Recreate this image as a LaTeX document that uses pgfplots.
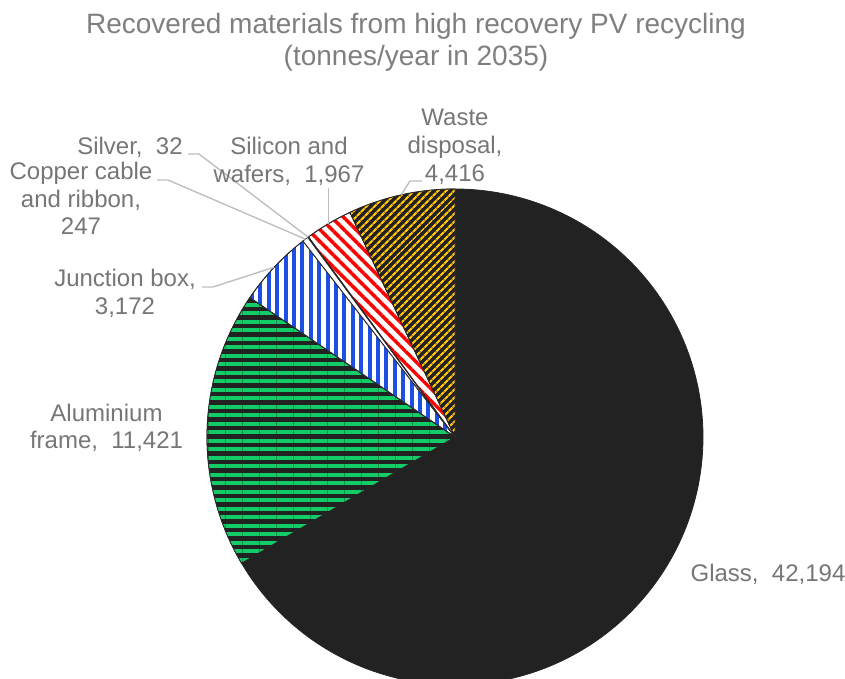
\documentclass[border=0pt]{standalone}
\usepackage{pgfplots}
\pgfplotsset{compat=1.18}
\usepackage{pgfplotstable}
\usepackage{fontspec}
\setmainfont{Liberation Sans}
\usetikzlibrary{patterns.meta}

\definecolor{glass}{HTML}{222222}
\definecolor{alugreen}{HTML}{12CC68}
\definecolor{juncblue}{HTML}{1C4FE2}
\definecolor{sired}{HTML}{FF0000}
\definecolor{wasteorange}{HTML}{FFC000}
\definecolor{edge}{HTML}{262626}
\definecolor{labelgray}{HTML}{767676}
\definecolor{titlegray}{HTML}{7F7F7F}
\definecolor{leadergray}{HTML}{BFBFBF}

% recovered materials, tonnes/year in 2035 (pie order, clockwise from 12 o'clock)
\pgfplotstableread{
slice value
Glass 42194
Aluminium 11421
Junction 3172
Copper 247
Silver 32
Silicon 1967
Waste 4416
}\piedata

\newcommand\getval[2]{\pgfplotstablegetelem{#1}{value}\of\piedata\global\let#2\pgfplotsretval}
\getval{0}\vA \getval{1}\vB \getval{2}\vC \getval{3}\vD
\getval{4}\vE \getval{5}\vF \getval{6}\vG

% pie centre and radius in axis units
\def\cx{455}\def\cy{242}\def\R{248}

% slice end angles (degrees), clockwise from 90
\edef\total{\fpeval{\vA+\vB+\vC+\vD+\vE+\vF+\vG}}
\edef\eA{\fpeval{90-360*\vA/\total}}
\edef\eB{\fpeval{\eA-360*\vB/\total}}
\edef\eC{\fpeval{\eB-360*\vC/\total}}
\edef\eD{\fpeval{\eC-360*\vD/\total}}
\edef\eE{\fpeval{\eD-360*\vE/\total}}
\edef\eF{\fpeval{\eE-360*\vF/\total}}
\edef\eG{\fpeval{\eF-360*\vG/\total}}

% point on the rim at the middle of a slice
\newcommand\rimpt[4]{%
  \edef#3{\fpeval{\cx+\R*cosd((#1+#2)/2)}}%
  \edef#4{\fpeval{\cy+\R*sind((#1+#2)/2)}}}
\rimpt{\eB}{\eC}\xC\yC
\rimpt{\eC}{\eD}\xD\yD
\rimpt{\eD}{\eE}\xE\yE
\rimpt{\eE}{\eF}\xF\yF
\rimpt{\eF}{\eG}\xG\yG

\tikzset{
  lbl/.style={text=labelgray, font=\fontsize{24bp}{28bp}\selectfont, anchor=base, inner sep=0pt},
  ttl/.style={text=titlegray, font=\fontsize{28bp}{32bp}\selectfont, anchor=base, inner sep=0pt},
  leader/.style={draw=leadergray, line width=1.4bp},
}
\pgfplotsset{slice/.style={draw=edge, line width=0.8bp, no markers}}

\begin{document}
\begin{tikzpicture}
\begin{axis}[
  width=845bp, height=679bp, scale only axis,
  xmin=0, xmax=845, ymin=0, ymax=679,
  hide axis, clip mode=individual,
]
\coordinate (SW) at (rel axis cs:0,0);
\coordinate (NE) at (rel axis cs:1,1);

% slices
\addplot[slice, fill=glass, domain=\eA:90, samples=240]
  ({\cx+\R*cos(x)},{\cy+\R*sin(x)}) -- (axis cs:\cx,\cy) -- cycle;
\addplot[slice, preaction={fill=glass},
  pattern={Lines[angle=0, distance=8.5bp, line width=4bp]}, pattern color=alugreen,
  domain=\eB:\eA, samples=80]
  ({\cx+\R*cos(x)},{\cy+\R*sin(x)}) -- (axis cs:\cx,\cy) -- cycle;
\addplot[slice, preaction={fill=white},
  pattern={Lines[angle=90, distance=8.4bp, line width=4bp]}, pattern color=juncblue,
  domain=\eC:\eB, samples=30]
  ({\cx+\R*cos(x)},{\cy+\R*sin(x)}) -- (axis cs:\cx,\cy) -- cycle;
\addplot[slice, fill=white, domain=\eD:\eC, samples=5]
  ({\cx+\R*cos(x)},{\cy+\R*sin(x)}) -- (axis cs:\cx,\cy) -- cycle;
\addplot[slice, fill=white, domain=\eE:\eD, samples=3]
  ({\cx+\R*cos(x)},{\cy+\R*sin(x)}) -- (axis cs:\cx,\cy) -- cycle;
\addplot[slice, preaction={fill=white},
  pattern={Lines[angle=-45, distance=8.5bp, line width=3.5bp]}, pattern color=sired,
  domain=\eF:\eE, samples=20]
  ({\cx+\R*cos(x)},{\cy+\R*sin(x)}) -- (axis cs:\cx,\cy) -- cycle;
\addplot[slice, preaction={fill=glass},
  pattern={Lines[angle=45, distance=6bp, line width=2.6bp]}, pattern color=wasteorange,
  domain=\eG:\eF, samples=40]
  ({\cx+\R*cos(x)},{\cy+\R*sin(x)}) -- (axis cs:\cx,\cy) -- cycle;

% leader lines
\draw[leader] (axis cs:202,392) -- (axis cs:213,392) -- (axis cs:\xC,\yC);
\draw[leader] (axis cs:157,499) -- (axis cs:168,499) -- (axis cs:\xD,\yD);
\draw[leader] (axis cs:188,525) -- (axis cs:199,525) -- (axis cs:\xE,\yE);
\draw[leader] (axis cs:\xF,491) -- (axis cs:\xF,\yF);
\draw[leader] (axis cs:422,498) -- (axis cs:410,498) -- (axis cs:\xG,\yG);

% title
\node[ttl] at (axis cs:416,645) {Recovered materials from high recovery PV recycling};
\node[ttl] at (axis cs:416,613) {(tonnes/year in 2035)};

% data labels
\node[lbl] at (axis cs:768,97) {Glass,~~42,194};
\node[lbl] at (axis cs:106.5,257) {Aluminium};
\node[lbl] at (axis cs:106.5,230) {frame,~~11,421};
\node[lbl] at (axis cs:125,392) {Junction box,};
\node[lbl] at (axis cs:125,364) {3,172};
\node[lbl] at (axis cs:81,499) {Copper cable};
\node[lbl] at (axis cs:81,471) {and ribbon,};
\node[lbl] at (axis cs:81,444) {247};
\node[lbl] at (axis cs:130,524) {Silver,~~32};
\node[lbl] at (axis cs:289,524) {Silicon and};
\node[lbl] at (axis cs:289,496) {wafers,~~1,967};
\node[lbl] at (axis cs:455,553) {Waste};
\node[lbl] at (axis cs:455,525) {disposal,};
\node[lbl] at (axis cs:455,497) {4,416};
\end{axis}
\pgfresetboundingbox
\path (SW) rectangle (NE);
\end{tikzpicture}
\end{document}
